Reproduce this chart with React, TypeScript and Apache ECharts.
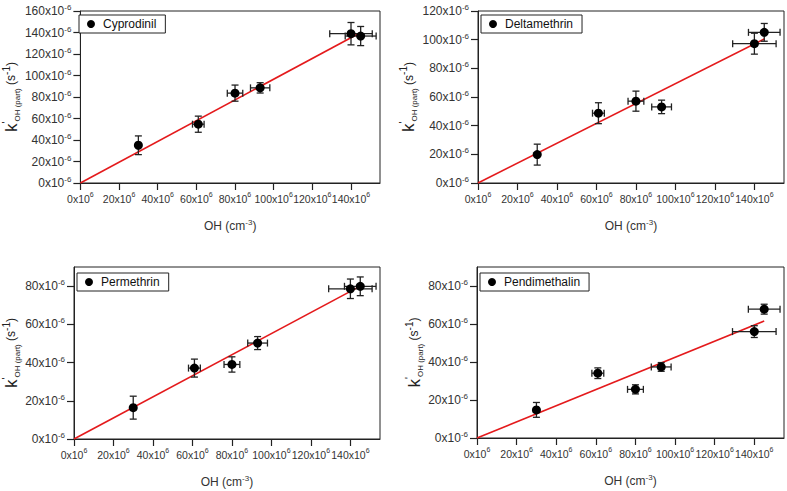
import React, { useEffect, useRef } from 'react';
import * as echarts from 'echarts';

// OH concentration (x10^6 cm^-3) and its uncertainty
const ohConc = [30, 61, 80, 93, 140, 145];
const ohErr = [0, 3, 4, 5, 11, 8];

const compounds = ['Cyprodinil', 'Deltamethrin', 'Permethrin', 'Pendimethalin'];

// k'OH(part) values (x10^-6 s^-1) and uncertainties
const cyprodinilK = [35.1, 54.7, 83.6, 88.5, 138.9, 136.7];
const cyprodinilErr = [8.7, 7.5, 7.5, 4.8, 10.4, 8.9];
const deltamethrinK = [19.8, 48.7, 57.1, 53.1, 97.2, 105.1];
const deltamethrinErr = [7.3, 7.3, 7.0, 4.7, 7.3, 6.2];
const permethrinK = [16.4, 37.1, 39.0, 50.2, 78.6, 79.9];
const permethrinErr = [6.0, 4.7, 4.0, 3.4, 5.1, 4.9];
const pendimethalinK = [14.8, 34.1, 25.6, 37.4, 56.0, 67.8];
const pendimethalinErr = [3.9, 2.8, 2.4, 2.3, 3.1, 2.6];

// linear fits through the origin: end point of the fitted line
const fitStartX = 0;
const fitEndX = 145;
const fitEndK = [140, 100.5, 80, 61.6];

// axes
const xTicks = [0, 20, 40, 60, 80, 100, 120, 140];
const xMax = 155;
const yTicksA = [0, 20, 40, 60, 80, 100, 120, 140, 160];
const yTicksB = [0, 20, 40, 60, 80, 100, 120];
const yTicksC = [0, 20, 40, 60, 80];
const yMaxes = [160, 120, 90, 90];

const kSeries = [cyprodinilK, deltamethrinK, permethrinK, pendimethalinK];
const errSeries = [cyprodinilErr, deltamethrinErr, permethrinErr, pendimethalinErr];
const yTickSets = [yTicksA, yTicksB, yTicksC, yTicksC];

const FONT = 'Liberation Sans, Arial, sans-serif';

const gridBoxes = [
  { left: 76, top: 11, width: 304, height: 172 },
  { left: 478, top: 11, width: 306, height: 172 },
  { left: 74, top: 267, width: 306, height: 172 },
  { left: 477, top: 267, width: 307, height: 171 },
];
const legendPos = [
  [79, 15],
  [481, 15],
  [77, 273],
  [480, 273],
];

const xTickRich = {
  n: { fontSize: 10.5, lineHeight: 15, color: '#333', fontFamily: FONT },
  s: { fontSize: 7, lineHeight: 8, verticalAlign: 'top', color: '#333', fontFamily: FONT },
};
const yTickRich = {
  n: { fontSize: 12, lineHeight: 15, color: '#333', fontFamily: FONT },
  s: { fontSize: 8, lineHeight: 8, verticalAlign: 'top', color: '#333', fontFamily: FONT },
};

export default function App() {
  const ref = useRef<HTMLDivElement>(null);
  useEffect(() => {
    if (!ref.current) return;
    const chart = echarts.init(ref.current, undefined, { renderer: 'svg' });

    const grid = gridBoxes.map((g) => ({
      ...g,
      show: true,
      borderColor: '#222',
      borderWidth: 1,
      backgroundColor: 'transparent',
    }));

    const xAxis = gridBoxes.map((_, i) => ({
      type: 'value',
      gridIndex: i,
      min: 0,
      max: xMax,
      splitLine: { show: false },
      axisLine: { show: true, onZero: false, lineStyle: { color: '#222', width: 1 } },
      axisTick: { show: true, inside: false, length: 7, customValues: xTicks, lineStyle: { color: '#222', width: 1.2 } },
      axisLabel: {
        customValues: xTicks,
        interval: 0,
        hideOverlap: false,
        showMinLabel: true,
        showMaxLabel: true,
        margin: 8,
        formatter: (v: number) => `{n|${v}x10}{s|6}`,
        rich: xTickRich,
      },
      name: '{t|OH (cm}{s|-3}{t|)}',
      nameLocation: 'middle',
      nameGap: 35,
      nameTextStyle: {
        rich: {
          t: { fontSize: 12, lineHeight: 16, color: '#333', fontFamily: FONT },
          s: { fontSize: 8, lineHeight: 8, verticalAlign: 'top', color: '#333', fontFamily: FONT },
        },
      },
    }));

    const yAxis = gridBoxes.map((_, i) => ({
      type: 'value',
      gridIndex: i,
      min: 0,
      max: yMaxes[i],
      splitLine: { show: false },
      axisLine: { show: true, onZero: false, lineStyle: { color: '#222', width: 1 } },
      axisTick: { show: true, inside: false, length: 7, customValues: yTickSets[i], lineStyle: { color: '#222', width: 1.2 } },
      axisLabel: {
        customValues: yTickSets[i],
        interval: 0,
        hideOverlap: false,
        showMinLabel: true,
        showMaxLabel: true,
        margin: 9,
        formatter: (v: number) => `{n|${v}x10}{s|-6}`,
        rich: yTickRich,
      },
      name: "{k|k}{p|'}{b|OH (part)}{t| (s}{p|-1}{t|)}",
      nameLocation: 'middle',
      nameRotate: 90,
      nameGap: i === 1 ? 58 : i === 0 ? 56 : 51,
      nameTextStyle: {
        rich: {
          k: { fontSize: 17, lineHeight: 20, color: '#222', fontFamily: FONT },
          p: { fontSize: 10, lineHeight: 9, verticalAlign: 'top', color: '#222', fontFamily: FONT },
          b: { fontSize: 8, lineHeight: 10, verticalAlign: 'bottom', color: '#222', fontFamily: FONT },
          t: { fontSize: 12, lineHeight: 16, color: '#222', fontFamily: FONT },
        },
      },
    }));

    const legend = compounds.map((name, i) => ({
      show: true,
      data: [name],
      left: legendPos[i][0],
      top: legendPos[i][1],
      orient: 'horizontal',
      icon: 'circle',
      itemWidth: 14,
      itemHeight: 8,
      padding: [3, 9, 3, 8],
      borderColor: '#222',
      borderWidth: 1,
      borderRadius: 0,
      backgroundColor: '#fff',
      textStyle: { fontSize: 12, color: '#111', fontFamily: FONT, lineHeight: 12 },
      selectedMode: false,
    }));

    const series: any[] = [];
    compounds.forEach((name, i) => {
      const ks = kSeries[i];
      const es = errSeries[i];
      series.push({
        type: 'line',
        name: name + ' fit',
        xAxisIndex: i,
        yAxisIndex: i,
        data: [
          [fitStartX, 0],
          [fitEndX, fitEndK[i]],
        ],
        showSymbol: false,
        symbol: 'none',
        lineStyle: { color: '#e41a1c', width: 1.6 },
        z: 2,
        silent: true,
      });
      series.push({
        type: 'custom',
        name: name + ' err',
        xAxisIndex: i,
        yAxisIndex: i,
        data: ohConc.map((x, j) => [x, ks[j], ohErr[j], es[j]]),
        encode: { x: 0, y: 1 },
        z: 3,
        renderItem: (params: any, api: any) => {
          const x = api.value(0);
          const y = api.value(1);
          const xe = api.value(2);
          const ye = api.value(3);
          const c = api.coord([x, y]);
          const top = api.coord([x, y + ye]);
          const bot = api.coord([x, y - ye]);
          const l = api.coord([x - xe, y]);
          const r = api.coord([x + xe, y]);
          const cap = 3.5;
          const style = { stroke: '#222', lineWidth: 1.3, fill: null };
          const children: any[] = [
            { type: 'line', shape: { x1: c[0], y1: top[1], x2: c[0], y2: bot[1] }, style },
            { type: 'line', shape: { x1: c[0] - cap, y1: top[1], x2: c[0] + cap, y2: top[1] }, style },
            { type: 'line', shape: { x1: c[0] - cap, y1: bot[1], x2: c[0] + cap, y2: bot[1] }, style },
          ];
          if (xe > 0) {
            children.push(
              { type: 'line', shape: { x1: l[0], y1: c[1], x2: r[0], y2: c[1] }, style },
              { type: 'line', shape: { x1: l[0], y1: c[1] - cap, x2: l[0], y2: c[1] + cap }, style },
              { type: 'line', shape: { x1: r[0], y1: c[1] - cap, x2: r[0], y2: c[1] + cap }, style }
            );
          }
          return { type: 'group', children };
        },
        silent: true,
      });
      series.push({
        type: 'scatter',
        name,
        xAxisIndex: i,
        yAxisIndex: i,
        data: ohConc.map((x, j) => [x, ks[j]]),
        symbol: 'circle',
        symbolSize: 9,
        itemStyle: { color: '#000', opacity: 1 },
        z: 4,
      });
    });

    chart.setOption({
      animation: false,
      backgroundColor: '#fff',
      textStyle: { fontFamily: FONT },
      grid,
      xAxis,
      yAxis,
      legend,
      series,
    });
    return () => chart.dispose();
  }, []);
  return (
    <div
      ref={ref}
      style={{ position: 'fixed', left: 0, top: 0, width: 787, height: 491, background: '#fff' }}
    />
  );
}
